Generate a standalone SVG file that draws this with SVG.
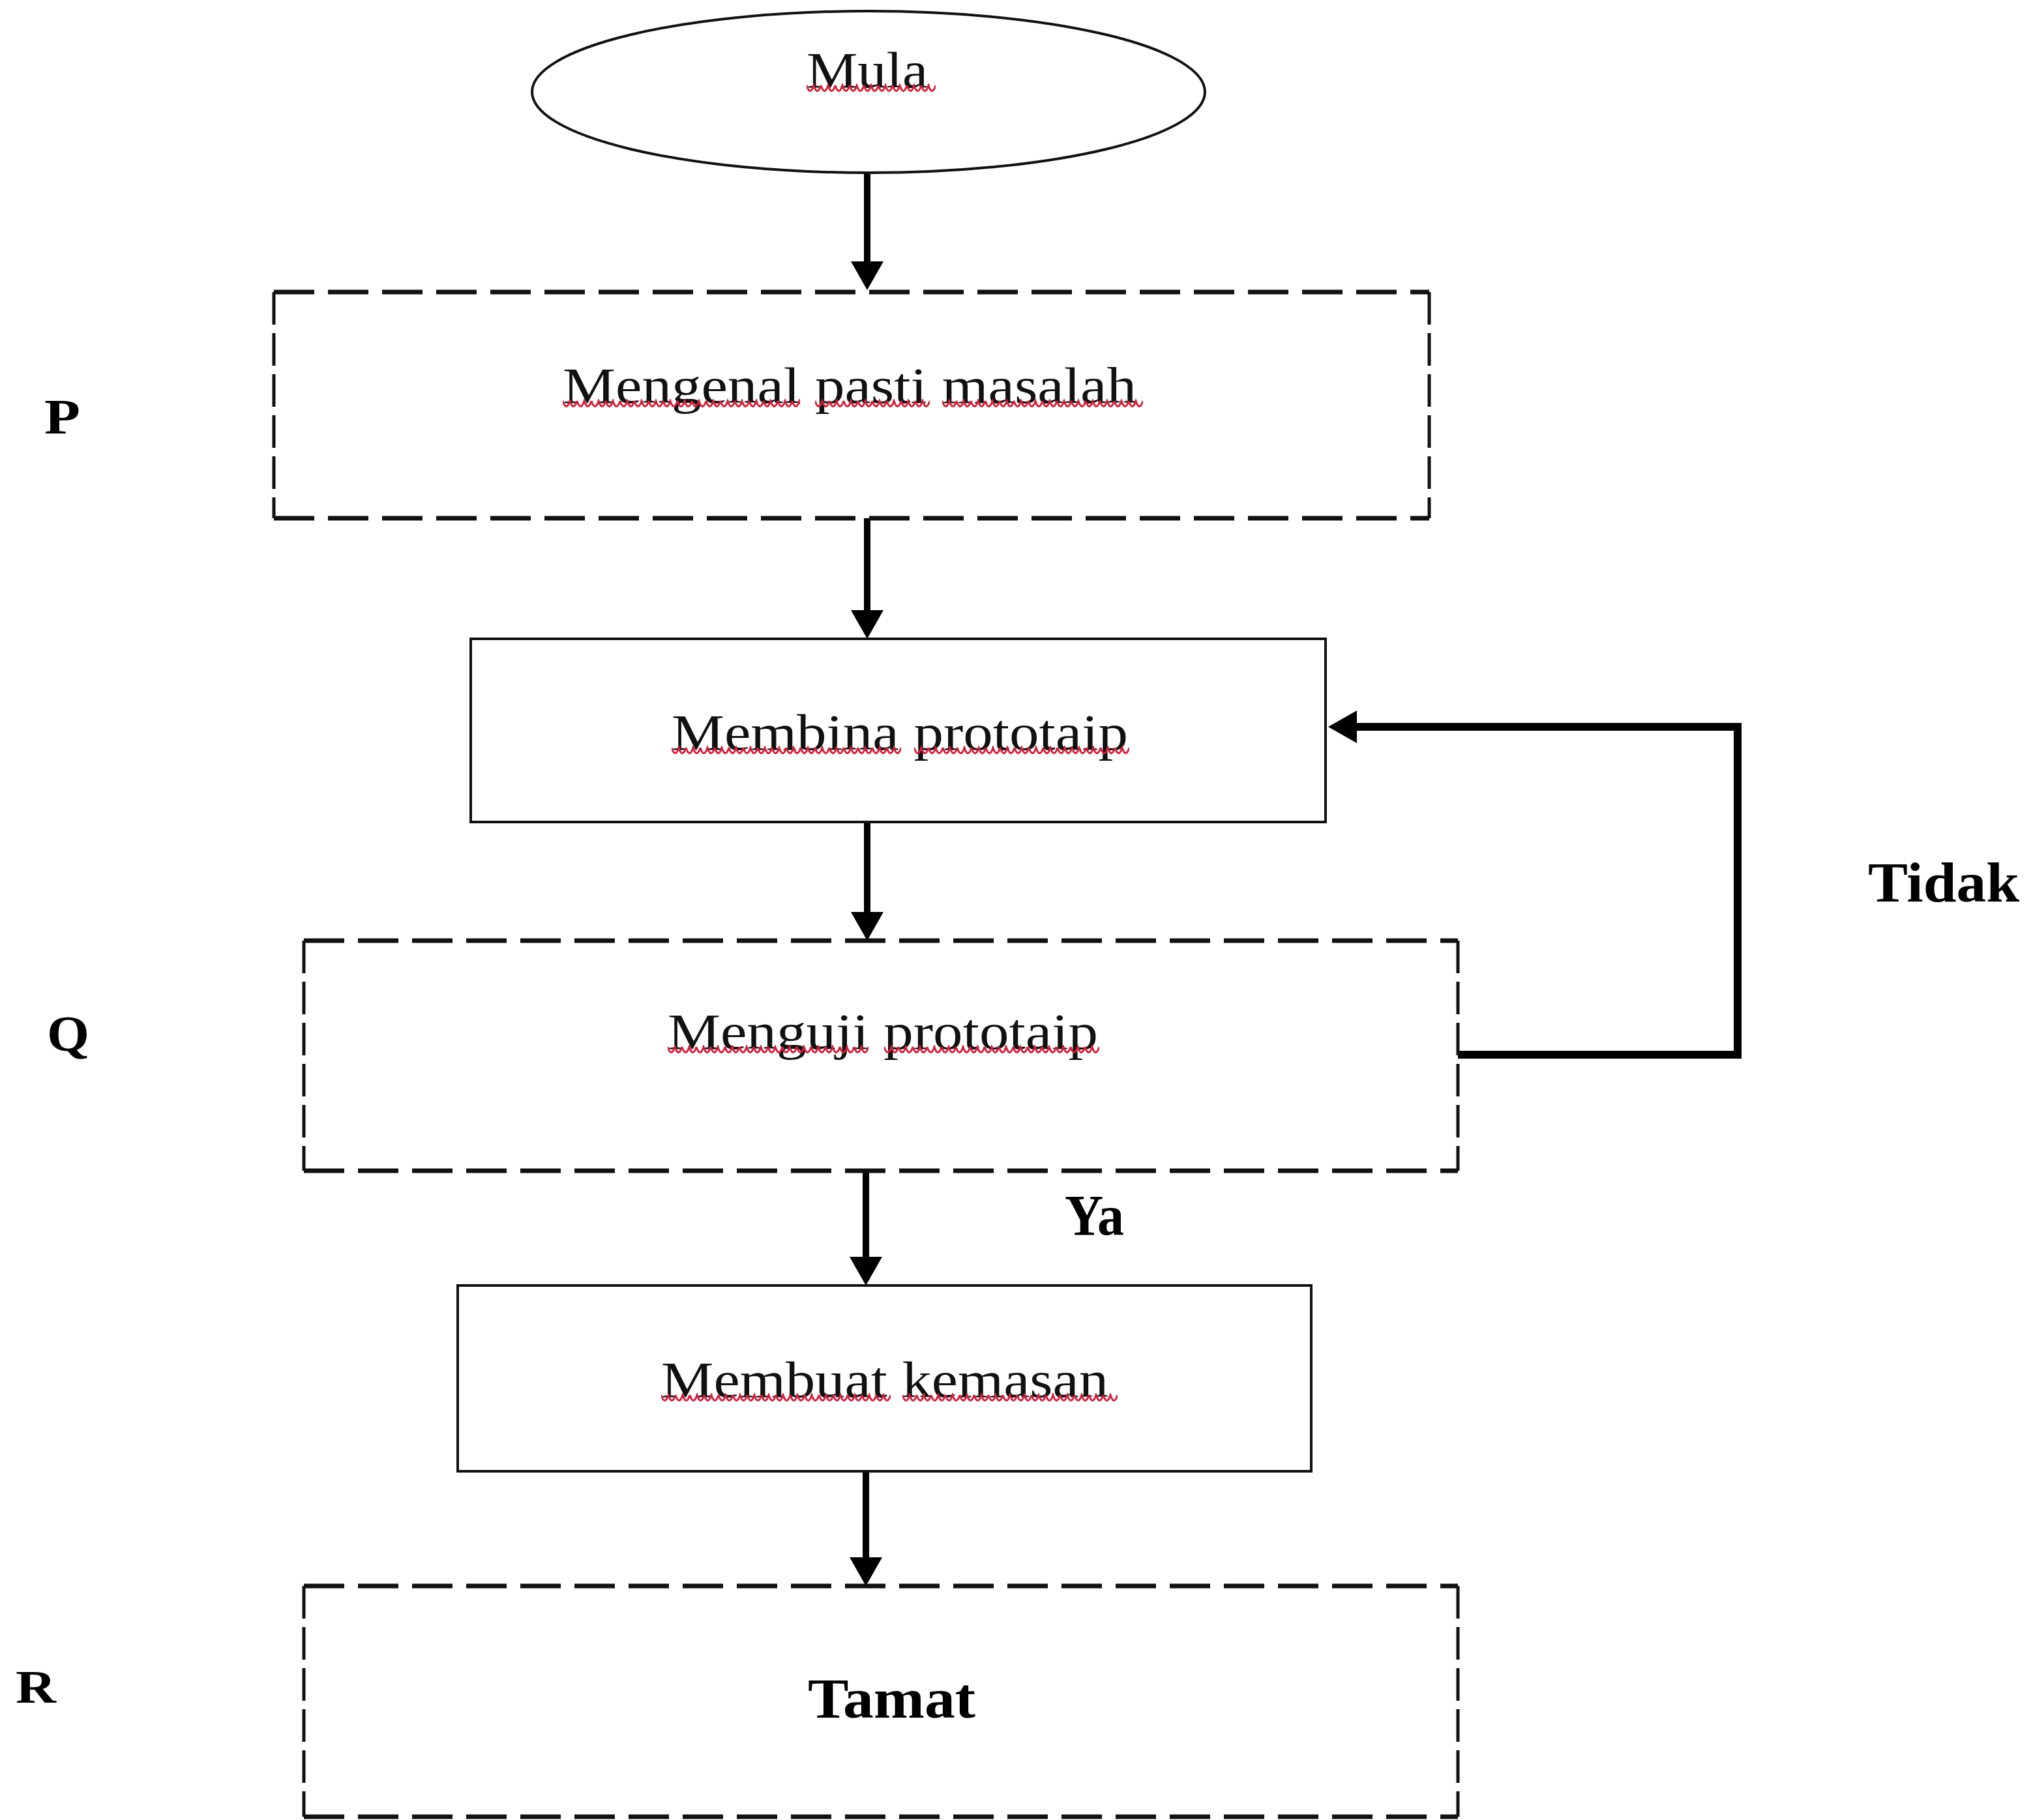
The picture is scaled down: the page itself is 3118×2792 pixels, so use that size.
<svg xmlns="http://www.w3.org/2000/svg" width="3118" height="2792" viewBox="0 0 3118 2792">
<style>
.txt{font-family:"Liberation Serif","Times New Roman",serif;font-size:78px;fill:#111}
.lbl{font-family:"Liberation Serif","Times New Roman",serif;font-weight:bold;fill:#000}
.solid{fill:none;stroke:#111;stroke-width:4}
.dh{fill:none;stroke:#111;stroke-width:7;stroke-dasharray:62 21}
.dv{fill:none;stroke:#111;stroke-width:5;stroke-dasharray:50 13}
.conn{fill:none;stroke:#000;stroke-width:10}
.loop{fill:none;stroke:#000;stroke-width:12}
.sq{fill:url(#squig)}
</style>
<defs>
<marker id="arr" markerUnits="userSpaceOnUse" markerWidth="44" markerHeight="50" refX="0" refY="25" orient="auto">
<path d="M0,0 L44,25 L0,50 z" fill="#000"/>
</marker>
<pattern id="squig" patternUnits="userSpaceOnUse" width="22" height="22">
<path d="M0,3 Q5.5,20 11,3 Q16.5,20 22,3" fill="none" stroke="#d0203a" stroke-width="3"/>
</pattern>
</defs>
<rect width="3118" height="2792" fill="#fff"/>

<g id="connectors">
<path class="conn" d="M1330,265 V401" marker-end="url(#arr)"/>
<path class="conn" d="M1330,795 V936" marker-end="url(#arr)"/>
<path class="conn" d="M1330,1261 V1399" marker-end="url(#arr)"/>
<path class="conn" d="M1328,1796 V1928" marker-end="url(#arr)"/>
<path class="conn" d="M1328,2257 V2389" marker-end="url(#arr)"/>
<path class="loop" d="M2236,1618 H2665 V1115 H2081" marker-end="url(#arr)"/>
</g>

<g id="node-mula">
<ellipse class="solid" cx="1332" cy="141" rx="516" ry="124"/>
<text class="txt" x="1237" y="134" textLength="186" lengthAdjust="spacingAndGlyphs">Mula</text>
<g transform="translate(1237,128)"><rect class="sq" width="198" height="22"/></g>
</g>

<g id="node-mengenal">
<path class="dh" d="M420,448 H2192 M420,795 H2192"/>
<path class="dv" d="M420,448 V795 M2192,448 V795"/>
<text class="txt" x="863" y="618" textLength="880" lengthAdjust="spacingAndGlyphs">Mengenal pasti masalah</text>
<g transform="translate(863,612)"><rect class="sq" width="364" height="22"/></g>
<g transform="translate(1250,612)"><rect class="sq" width="176" height="22"/></g>
<g transform="translate(1445,612)"><rect class="sq" width="308" height="22"/></g>
</g>

<g id="node-membina">
<rect class="solid" x="722" y="980" width="1311" height="281"/>
<text class="txt" x="1030" y="1150" textLength="700" lengthAdjust="spacingAndGlyphs">Membina prototaip</text>
<g transform="translate(1030,1144)"><rect class="sq" width="352" height="22"/></g>
<g transform="translate(1402,1144)"><rect class="sq" width="330" height="22"/></g>
</g>

<g id="node-menguji">
<path class="dh" d="M466,1443 H2236 M466,1796 H2236"/>
<path class="dv" d="M466,1443 V1796 M2236,1443 V1796"/>
<text class="txt" x="1024" y="1609" textLength="660" lengthAdjust="spacingAndGlyphs">Menguji prototaip</text>
<g transform="translate(1024,1603)"><rect class="sq" width="308" height="22"/></g>
<g transform="translate(1356,1603)"><rect class="sq" width="330" height="22"/></g>
</g>

<g id="node-membuat">
<rect class="solid" x="702" y="1972" width="1309" height="285"/>
<text class="txt" x="1014" y="2143" textLength="686" lengthAdjust="spacingAndGlyphs">Membuat kemasan</text>
<g transform="translate(1014,2137)"><rect class="sq" width="352" height="22"/></g>
<g transform="translate(1384,2137)"><rect class="sq" width="330" height="22"/></g>
</g>

<g id="node-tamat">
<path class="dh" d="M466,2433 H2236 M466,2787 H2236"/>
<path class="dv" d="M466,2433 V2787 M2236,2433 V2787"/>
<text class="lbl" x="1239" y="2635" font-size="86" textLength="257" lengthAdjust="spacingAndGlyphs">Tamat</text>
</g>

<g id="labels">
<text class="lbl" x="68" y="665" font-size="76" textLength="55" lengthAdjust="spacingAndGlyphs">P</text>
<text class="lbl" x="72" y="1612" font-size="78" textLength="65" lengthAdjust="spacingAndGlyphs">Q</text>
<text class="lbl" x="24" y="2612" font-size="72" textLength="62" lengthAdjust="spacingAndGlyphs">R</text>
<text class="lbl" x="2865" y="1383" font-size="86" textLength="232" lengthAdjust="spacingAndGlyphs">Tidak</text>
<text class="lbl" x="1633" y="1894" font-size="88" textLength="91" lengthAdjust="spacingAndGlyphs">Ya</text>
</g>
</svg>
